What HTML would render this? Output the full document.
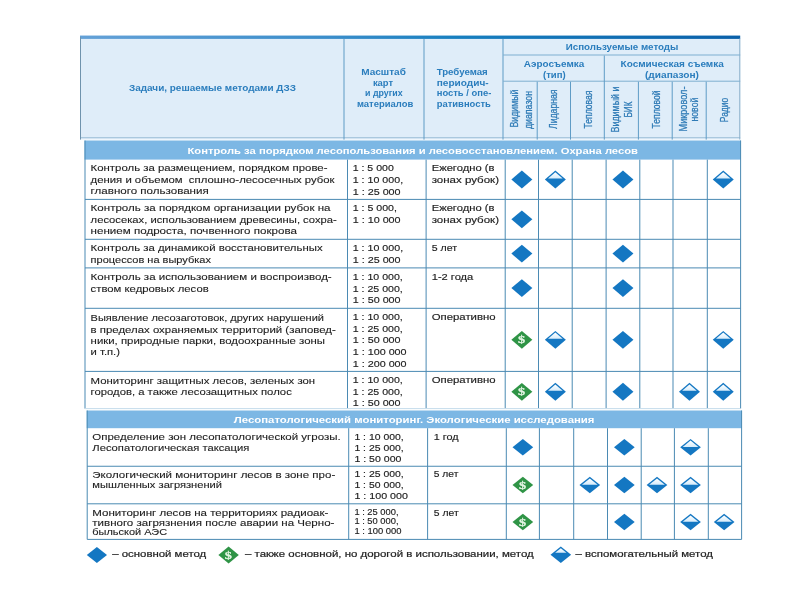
<!DOCTYPE html>
<html lang="ru">
<head>
<meta charset="utf-8">
<title>Задачи, решаемые методами ДЗЗ</title>
<style>
html,body{margin:0;padding:0;background:#fff;}
body{width:800px;height:600px;overflow:hidden;font-family:"Liberation Sans", sans-serif;}
svg{display:block;will-change:transform;}
text{white-space:pre;}
</style>
</head>
<body>
<svg width="800" height="600" viewBox="0 0 800 600">
<defs>
<linearGradient id="tg" x1="0" y1="0" x2="1" y2="0">
<stop offset="0" stop-color="#64a1d7"/><stop offset="0.38" stop-color="#3a8dca"/><stop offset="0.57" stop-color="#177fbf"/><stop offset="1" stop-color="#0a60a9"/>
</linearGradient>
<linearGradient id="wg" x1="0" y1="0" x2="0" y2="1">
<stop offset="0" stop-color="#ffffff"/><stop offset="1" stop-color="#d6ecfb"/>
</linearGradient>
</defs>
<rect x="0" y="0" width="800" height="600" fill="#ffffff"/>
<rect x="80" y="35.6" width="660.2" height="103.9" fill="#dfedf9" />
<rect x="80" y="35.6" width="660.2" height="3.3" fill="url(#tg)" />
<rect x="80" y="137.2" width="660.2" height="1" fill="#9dbfd8" />
<rect x="80.0" y="37" width="1" height="102.6" fill="#6f93ad" />
<rect x="739.3" y="38.5" width="1" height="101.0" fill="#86adc9" />
<rect x="343.5" y="39" width="1" height="100.6" fill="#5f9cc6" />
<rect x="423.5" y="39" width="1" height="100.6" fill="#5f9cc6" />
<rect x="502.5" y="39" width="1" height="100.6" fill="#5f9cc6" />
<rect x="503" y="54.5" width="237.2" height="1" fill="#7fafd1" />
<rect x="503" y="80.7" width="237.2" height="1" fill="#7fafd1" />
<rect x="603.8" y="55.5" width="1" height="84.1" fill="#5f9cc6" />
<rect x="536.7" y="81.7" width="1" height="57.9" fill="#5f9cc6" />
<rect x="570.0" y="81.7" width="1" height="57.9" fill="#5f9cc6" />
<rect x="637.9" y="81.7" width="1" height="57.9" fill="#5f9cc6" />
<rect x="671.7" y="81.7" width="1" height="57.9" fill="#5f9cc6" />
<rect x="705.7" y="81.7" width="1" height="57.9" fill="#5f9cc6" />
<text transform="translate(129,91.4)" font-family='"Liberation Sans", sans-serif' font-size="9" font-weight="bold" fill="#2a7dbd" textLength="167" lengthAdjust="spacingAndGlyphs">Задачи, решаемые методами ДЗЗ</text>
<text transform="translate(361.2,75.2)" font-family='"Liberation Sans", sans-serif' font-size="9" font-weight="bold" fill="#2a7dbd" textLength="44.7" lengthAdjust="spacingAndGlyphs">Масштаб</text>
<text transform="translate(372.9,85.8)" font-family='"Liberation Sans", sans-serif' font-size="9" font-weight="bold" fill="#2a7dbd" textLength="20.2" lengthAdjust="spacingAndGlyphs">карт</text>
<text transform="translate(365,96.3)" font-family='"Liberation Sans", sans-serif' font-size="9" font-weight="bold" fill="#2a7dbd" textLength="37.7" lengthAdjust="spacingAndGlyphs">и других</text>
<text transform="translate(357,107.0)" font-family='"Liberation Sans", sans-serif' font-size="9" font-weight="bold" fill="#2a7dbd" textLength="56.3" lengthAdjust="spacingAndGlyphs">материалов</text>
<text transform="translate(436.7,75.2)" font-family='"Liberation Sans", sans-serif' font-size="9" font-weight="bold" fill="#2a7dbd" textLength="51.0" lengthAdjust="spacingAndGlyphs">Требуемая</text>
<text transform="translate(436.7,85.8)" font-family='"Liberation Sans", sans-serif' font-size="9" font-weight="bold" fill="#2a7dbd" textLength="52.0" lengthAdjust="spacingAndGlyphs">периодич-</text>
<text transform="translate(436.7,96.3)" font-family='"Liberation Sans", sans-serif' font-size="9" font-weight="bold" fill="#2a7dbd" textLength="54.6" lengthAdjust="spacingAndGlyphs">ность / опе-</text>
<text transform="translate(436.7,107.0)" font-family='"Liberation Sans", sans-serif' font-size="9" font-weight="bold" fill="#2a7dbd" textLength="54.2" lengthAdjust="spacingAndGlyphs">ративность</text>
<text transform="translate(565.75,50.2)" font-family='"Liberation Sans", sans-serif' font-size="9" font-weight="bold" fill="#2a7dbd" textLength="112.65" lengthAdjust="spacingAndGlyphs">Используемые методы</text>
<text transform="translate(523.75,67.1)" font-family='"Liberation Sans", sans-serif' font-size="9" font-weight="bold" fill="#2a7dbd" textLength="60.55" lengthAdjust="spacingAndGlyphs">Аэросъемка</text>
<text transform="translate(543,77.5)" font-family='"Liberation Sans", sans-serif' font-size="9" font-weight="bold" fill="#2a7dbd" textLength="22.7" lengthAdjust="spacingAndGlyphs">(тип)</text>
<text transform="translate(620.6,67.1)" font-family='"Liberation Sans", sans-serif' font-size="9" font-weight="bold" fill="#2a7dbd" textLength="103.2" lengthAdjust="spacingAndGlyphs">Космическая съемка</text>
<text transform="translate(645,77.5)" font-family='"Liberation Sans", sans-serif' font-size="9" font-weight="bold" fill="#2a7dbd" textLength="54" lengthAdjust="spacingAndGlyphs">(диапазон)</text>
<text transform="translate(517.5,127.5) rotate(-90)" font-family='"Liberation Sans", sans-serif' font-size="11" font-weight="normal" fill="#2f7bb6" stroke="#2f7bb6" stroke-width="0.25" textLength="38" lengthAdjust="spacingAndGlyphs">Видимый</text>
<text transform="translate(531.8,129) rotate(-90)" font-family='"Liberation Sans", sans-serif' font-size="11" font-weight="normal" fill="#2f7bb6" stroke="#2f7bb6" stroke-width="0.25" textLength="38" lengthAdjust="spacingAndGlyphs">диапазон</text>
<text transform="translate(557.3,129) rotate(-90)" font-family='"Liberation Sans", sans-serif' font-size="11" font-weight="normal" fill="#2f7bb6" stroke="#2f7bb6" stroke-width="0.25" textLength="39.5" lengthAdjust="spacingAndGlyphs">Лидарная</text>
<text transform="translate(591.5,128.5) rotate(-90)" font-family='"Liberation Sans", sans-serif' font-size="11" font-weight="normal" fill="#2f7bb6" stroke="#2f7bb6" stroke-width="0.25" textLength="38" lengthAdjust="spacingAndGlyphs">Тепловая</text>
<text transform="translate(618.75,132.5) rotate(-90)" font-family='"Liberation Sans", sans-serif' font-size="11" font-weight="normal" fill="#2f7bb6" stroke="#2f7bb6" stroke-width="0.25" textLength="46" lengthAdjust="spacingAndGlyphs">Видимый и</text>
<text transform="translate(632.25,117.5) rotate(-90)" font-family='"Liberation Sans", sans-serif' font-size="11" font-weight="normal" fill="#2f7bb6" stroke="#2f7bb6" stroke-width="0.25" textLength="16" lengthAdjust="spacingAndGlyphs">БИК</text>
<text transform="translate(659.6,128.4) rotate(-90)" font-family='"Liberation Sans", sans-serif' font-size="11" font-weight="normal" fill="#2f7bb6" stroke="#2f7bb6" stroke-width="0.25" textLength="38" lengthAdjust="spacingAndGlyphs">Тепловой</text>
<text transform="translate(686.6,131.5) rotate(-90)" font-family='"Liberation Sans", sans-serif' font-size="11" font-weight="normal" fill="#2f7bb6" stroke="#2f7bb6" stroke-width="0.25" textLength="45" lengthAdjust="spacingAndGlyphs">Микровол-</text>
<text transform="translate(698.4,121.6) rotate(-90)" font-family='"Liberation Sans", sans-serif' font-size="11" font-weight="normal" fill="#2f7bb6" stroke="#2f7bb6" stroke-width="0.25" textLength="24" lengthAdjust="spacingAndGlyphs">новой</text>
<text transform="translate(727.5,122.2) rotate(-90)" font-family='"Liberation Sans", sans-serif' font-size="11" font-weight="normal" fill="#2f7bb6" stroke="#2f7bb6" stroke-width="0.25" textLength="24.4" lengthAdjust="spacingAndGlyphs">Радио</text>
<rect x="84.5" y="140.5" width="656.4" height="19.1" fill="#7cb7e4" />
<text transform="translate(187.5,153.6)" font-family='"Liberation Sans", sans-serif' font-size="9" font-weight="bold" fill="#ffffff" textLength="450.5" lengthAdjust="spacingAndGlyphs">Контроль за порядком лесопользования и лесовосстановлением. Охрана лесов</text>
<rect x="84.5" y="140.5" width="1" height="268.1" fill="#4b8ab3" />
<rect x="347.0" y="159.6" width="1" height="249.0" fill="#4b8ab3" />
<rect x="425.6" y="159.6" width="1" height="249.0" fill="#4b8ab3" />
<rect x="504.7" y="159.6" width="1" height="249.0" fill="#4b8ab3" />
<rect x="538.0" y="159.6" width="1" height="249.0" fill="#4b8ab3" />
<rect x="571.7" y="159.6" width="1" height="249.0" fill="#4b8ab3" />
<rect x="605.6" y="159.6" width="1" height="249.0" fill="#4b8ab3" />
<rect x="639.3" y="159.6" width="1" height="249.0" fill="#4b8ab3" />
<rect x="672.5" y="159.6" width="1" height="249.0" fill="#4b8ab3" />
<rect x="706.8" y="159.6" width="1" height="249.0" fill="#4b8ab3" />
<rect x="740.1" y="140.5" width="1" height="268.1" fill="#4b8ab3" />
<rect x="85.0" y="198.9" width="655.6" height="1" fill="#4b8ab3" />
<rect x="85.0" y="238.8" width="655.6" height="1" fill="#4b8ab3" />
<rect x="85.0" y="267.4" width="655.6" height="1" fill="#4b8ab3" />
<rect x="85.0" y="307.8" width="655.6" height="1" fill="#4b8ab3" />
<rect x="85.0" y="370.9" width="655.6" height="1" fill="#4b8ab3" />
<rect x="85.0" y="408.1" width="655.6" height="1" fill="#c5dcec" />
<text transform="translate(90.6,171.3)" font-family='"Liberation Sans", sans-serif' font-size="8.9" font-weight="normal" fill="#222222" stroke="#222222" stroke-width="0.1" textLength="236.9" lengthAdjust="spacingAndGlyphs">Контроль за размещением, порядком прове-</text>
<text transform="translate(90.6,183)" font-family='"Liberation Sans", sans-serif' font-size="8.9" font-weight="normal" fill="#222222" stroke="#222222" stroke-width="0.1" textLength="244.0" lengthAdjust="spacingAndGlyphs">дения и объемом  сплошно-лесосечных рубок</text>
<text transform="translate(90.6,194.2)" font-family='"Liberation Sans", sans-serif' font-size="8.9" font-weight="normal" fill="#222222" stroke="#222222" stroke-width="0.1" textLength="118.1" lengthAdjust="spacingAndGlyphs">главного пользования</text>
<text transform="translate(352.7,171.4)" font-family='"Liberation Sans", sans-serif' font-size="9.5" font-weight="normal" fill="#222222" stroke="#222222" stroke-width="0.15" textLength="41.1" lengthAdjust="spacingAndGlyphs">1 : 5 000</text>
<text transform="translate(352.7,183.1)" font-family='"Liberation Sans", sans-serif' font-size="9.5" font-weight="normal" fill="#222222" stroke="#222222" stroke-width="0.15" textLength="50.4" lengthAdjust="spacingAndGlyphs">1 : 10 000,</text>
<text transform="translate(352.7,194.7)" font-family='"Liberation Sans", sans-serif' font-size="9.5" font-weight="normal" fill="#222222" stroke="#222222" stroke-width="0.15" textLength="47.9" lengthAdjust="spacingAndGlyphs">1 : 25 000</text>
<text transform="translate(431.7,171.4)" font-family='"Liberation Sans", sans-serif' font-size="8.9" font-weight="normal" fill="#222222" stroke="#222222" stroke-width="0.15" textLength="62.7" lengthAdjust="spacingAndGlyphs">Ежегодно (в</text>
<text transform="translate(431.7,183.1)" font-family='"Liberation Sans", sans-serif' font-size="8.9" font-weight="normal" fill="#222222" stroke="#222222" stroke-width="0.15" textLength="67.3" lengthAdjust="spacingAndGlyphs">зонах рубок)</text>
<path d="M511.35,179.5 L521.85,170.55 L532.35,179.5 L521.85,188.45 Z" fill="#1477c2"/>
<path d="M544.85,179.5 L555.35,170.55 L565.85,179.5 L555.35,188.45 Z" fill="#1477c2"/>
<path d="M548.02,178.5 L555.35,172.25 L562.68,178.5 Z" fill="url(#wg)"/>
<path d="M612.45,179.5 L622.95,170.55 L633.45,179.5 L622.95,188.45 Z" fill="#1477c2"/>
<path d="M712.75,179.5 L723.25,170.55 L733.75,179.5 L723.25,188.45 Z" fill="#1477c2"/>
<path d="M715.92,178.5 L723.25,172.25 L730.58,178.5 Z" fill="url(#wg)"/>
<text transform="translate(90.6,211.4)" font-family='"Liberation Sans", sans-serif' font-size="8.9" font-weight="normal" fill="#222222" stroke="#222222" stroke-width="0.1" textLength="239.9" lengthAdjust="spacingAndGlyphs">Контроль за порядком организации рубок на</text>
<text transform="translate(90.6,222.9)" font-family='"Liberation Sans", sans-serif' font-size="8.9" font-weight="normal" fill="#222222" stroke="#222222" stroke-width="0.1" textLength="246.2" lengthAdjust="spacingAndGlyphs">лесосеках, использованием древесины, сохра-</text>
<text transform="translate(90.6,234.3)" font-family='"Liberation Sans", sans-serif' font-size="8.9" font-weight="normal" fill="#222222" stroke="#222222" stroke-width="0.1" textLength="206.3" lengthAdjust="spacingAndGlyphs">нением подроста, почвенного покрова</text>
<text transform="translate(352.7,211.3)" font-family='"Liberation Sans", sans-serif' font-size="9.5" font-weight="normal" fill="#222222" stroke="#222222" stroke-width="0.15" textLength="44.2" lengthAdjust="spacingAndGlyphs">1 : 5 000,</text>
<text transform="translate(352.7,222.8)" font-family='"Liberation Sans", sans-serif' font-size="9.5" font-weight="normal" fill="#222222" stroke="#222222" stroke-width="0.15" textLength="47.9" lengthAdjust="spacingAndGlyphs">1 : 10 000</text>
<text transform="translate(431.7,211.3)" font-family='"Liberation Sans", sans-serif' font-size="8.9" font-weight="normal" fill="#222222" stroke="#222222" stroke-width="0.15" textLength="62.7" lengthAdjust="spacingAndGlyphs">Ежегодно (в</text>
<text transform="translate(431.7,222.8)" font-family='"Liberation Sans", sans-serif' font-size="8.9" font-weight="normal" fill="#222222" stroke="#222222" stroke-width="0.15" textLength="67.3" lengthAdjust="spacingAndGlyphs">зонах рубок)</text>
<path d="M511.35,219.35 L521.85,210.4 L532.35,219.35 L521.85,228.3 Z" fill="#1477c2"/>
<text transform="translate(90.6,251.4)" font-family='"Liberation Sans", sans-serif' font-size="8.9" font-weight="normal" fill="#222222" stroke="#222222" stroke-width="0.1" textLength="232.0" lengthAdjust="spacingAndGlyphs">Контроль за динамикой восстановительных</text>
<text transform="translate(90.6,262.6)" font-family='"Liberation Sans", sans-serif' font-size="8.9" font-weight="normal" fill="#222222" stroke="#222222" stroke-width="0.1" textLength="120.4" lengthAdjust="spacingAndGlyphs">процессов на вырубках</text>
<text transform="translate(352.7,251.4)" font-family='"Liberation Sans", sans-serif' font-size="9.5" font-weight="normal" fill="#222222" stroke="#222222" stroke-width="0.15" textLength="50.4" lengthAdjust="spacingAndGlyphs">1 : 10 000,</text>
<text transform="translate(352.7,262.8)" font-family='"Liberation Sans", sans-serif' font-size="9.5" font-weight="normal" fill="#222222" stroke="#222222" stroke-width="0.15" textLength="47.9" lengthAdjust="spacingAndGlyphs">1 : 25 000</text>
<text transform="translate(431.7,251.4)" font-family='"Liberation Sans", sans-serif' font-size="8.9" font-weight="normal" fill="#222222" stroke="#222222" stroke-width="0.15" textLength="25.3" lengthAdjust="spacingAndGlyphs">5 лет</text>
<path d="M511.35,253.6 L521.85,244.65 L532.35,253.6 L521.85,262.55 Z" fill="#1477c2"/>
<path d="M612.45,253.6 L622.95,244.65 L633.45,253.6 L622.95,262.55 Z" fill="#1477c2"/>
<text transform="translate(90.6,280.2)" font-family='"Liberation Sans", sans-serif' font-size="8.9" font-weight="normal" fill="#222222" stroke="#222222" stroke-width="0.1" textLength="241.1" lengthAdjust="spacingAndGlyphs">Контроль за использованием и воспроизвод-</text>
<text transform="translate(90.6,291.8)" font-family='"Liberation Sans", sans-serif' font-size="8.9" font-weight="normal" fill="#222222" stroke="#222222" stroke-width="0.1" textLength="118.1" lengthAdjust="spacingAndGlyphs">ством кедровых лесов</text>
<text transform="translate(352.7,280)" font-family='"Liberation Sans", sans-serif' font-size="9.5" font-weight="normal" fill="#222222" stroke="#222222" stroke-width="0.15" textLength="50.1" lengthAdjust="spacingAndGlyphs">1 : 10 000,</text>
<text transform="translate(352.7,291.5)" font-family='"Liberation Sans", sans-serif' font-size="9.5" font-weight="normal" fill="#222222" stroke="#222222" stroke-width="0.15" textLength="50.1" lengthAdjust="spacingAndGlyphs">1 : 25 000,</text>
<text transform="translate(352.7,303)" font-family='"Liberation Sans", sans-serif' font-size="9.5" font-weight="normal" fill="#222222" stroke="#222222" stroke-width="0.15" textLength="47.9" lengthAdjust="spacingAndGlyphs">1 : 50 000</text>
<text transform="translate(431.7,280)" font-family='"Liberation Sans", sans-serif' font-size="8.9" font-weight="normal" fill="#222222" stroke="#222222" stroke-width="0.15" textLength="41.6" lengthAdjust="spacingAndGlyphs">1-2 года</text>
<path d="M511.35,288.1 L521.85,279.15 L532.35,288.1 L521.85,297.05 Z" fill="#1477c2"/>
<path d="M612.45,288.1 L622.95,279.15 L633.45,288.1 L622.95,297.05 Z" fill="#1477c2"/>
<text transform="translate(90.6,321)" font-family='"Liberation Sans", sans-serif' font-size="8.9" font-weight="normal" fill="#222222" stroke="#222222" stroke-width="0.1" textLength="233.4" lengthAdjust="spacingAndGlyphs">Выявление лесозаготовок, других нарушений</text>
<text transform="translate(90.6,332.5)" font-family='"Liberation Sans", sans-serif' font-size="8.9" font-weight="normal" fill="#222222" stroke="#222222" stroke-width="0.1" textLength="245.1" lengthAdjust="spacingAndGlyphs">в пределах охраняемых территорий (заповед-</text>
<text transform="translate(90.6,343.8)" font-family='"Liberation Sans", sans-serif' font-size="8.9" font-weight="normal" fill="#222222" stroke="#222222" stroke-width="0.1" textLength="234.4" lengthAdjust="spacingAndGlyphs">ники, природные парки, водоохранные зоны</text>
<text transform="translate(90.6,355.1)" font-family='"Liberation Sans", sans-serif' font-size="8.9" font-weight="normal" fill="#222222" stroke="#222222" stroke-width="0.1" textLength="29.4" lengthAdjust="spacingAndGlyphs">и т.п.)</text>
<text transform="translate(352.7,320.2)" font-family='"Liberation Sans", sans-serif' font-size="9.5" font-weight="normal" fill="#222222" stroke="#222222" stroke-width="0.15" textLength="50.1" lengthAdjust="spacingAndGlyphs">1 : 10 000,</text>
<text transform="translate(352.7,331.8)" font-family='"Liberation Sans", sans-serif' font-size="9.5" font-weight="normal" fill="#222222" stroke="#222222" stroke-width="0.15" textLength="50.1" lengthAdjust="spacingAndGlyphs">1 : 25 000,</text>
<text transform="translate(352.7,343.3)" font-family='"Liberation Sans", sans-serif' font-size="9.5" font-weight="normal" fill="#222222" stroke="#222222" stroke-width="0.15" textLength="47.9" lengthAdjust="spacingAndGlyphs">1 : 50 000</text>
<text transform="translate(352.7,355)" font-family='"Liberation Sans", sans-serif' font-size="9.5" font-weight="normal" fill="#222222" stroke="#222222" stroke-width="0.15" textLength="53.9" lengthAdjust="spacingAndGlyphs">1 : 100 000</text>
<text transform="translate(352.7,366.6)" font-family='"Liberation Sans", sans-serif' font-size="9.5" font-weight="normal" fill="#222222" stroke="#222222" stroke-width="0.15" textLength="53.9" lengthAdjust="spacingAndGlyphs">1 : 200 000</text>
<text transform="translate(431.7,320.2)" font-family='"Liberation Sans", sans-serif' font-size="8.9" font-weight="normal" fill="#222222" stroke="#222222" stroke-width="0.15" textLength="63.9" lengthAdjust="spacingAndGlyphs">Оперативно</text>
<path d="M511.35,339.85 L521.85,331.0 L532.35,339.85 L521.85,348.7 Z" fill="#2f9446"/>
<text transform="translate(521.65,343.35) scale(1.3,1)" font-family='"Liberation Serif", serif' font-size="11" font-weight="bold" fill="#e3f5e3" stroke="#e3f5e3" stroke-width="0.25" text-anchor="middle">$</text>
<path d="M544.85,339.85 L555.35,330.9 L565.85,339.85 L555.35,348.8 Z" fill="#1477c2"/>
<path d="M548.02,338.85 L555.35,332.6 L562.68,338.85 Z" fill="url(#wg)"/>
<path d="M612.45,339.85 L622.95,330.9 L633.45,339.85 L622.95,348.8 Z" fill="#1477c2"/>
<path d="M712.75,339.85 L723.25,330.9 L733.75,339.85 L723.25,348.8 Z" fill="#1477c2"/>
<path d="M715.92,338.85 L723.25,332.6 L730.58,338.85 Z" fill="url(#wg)"/>
<text transform="translate(90.6,383.5)" font-family='"Liberation Sans", sans-serif' font-size="8.9" font-weight="normal" fill="#222222" stroke="#222222" stroke-width="0.1" textLength="224.5" lengthAdjust="spacingAndGlyphs">Мониторинг защитных лесов, зеленых зон</text>
<text transform="translate(90.6,395.2)" font-family='"Liberation Sans", sans-serif' font-size="8.9" font-weight="normal" fill="#222222" stroke="#222222" stroke-width="0.1" textLength="201.2" lengthAdjust="spacingAndGlyphs">городов, а также лесозащитных полос</text>
<text transform="translate(352.7,383.1)" font-family='"Liberation Sans", sans-serif' font-size="9.5" font-weight="normal" fill="#222222" stroke="#222222" stroke-width="0.15" textLength="50.1" lengthAdjust="spacingAndGlyphs">1 : 10 000,</text>
<text transform="translate(352.7,395)" font-family='"Liberation Sans", sans-serif' font-size="9.5" font-weight="normal" fill="#222222" stroke="#222222" stroke-width="0.15" textLength="50.1" lengthAdjust="spacingAndGlyphs">1 : 25 000,</text>
<text transform="translate(352.7,406.3)" font-family='"Liberation Sans", sans-serif' font-size="9.5" font-weight="normal" fill="#222222" stroke="#222222" stroke-width="0.15" textLength="47.9" lengthAdjust="spacingAndGlyphs">1 : 50 000</text>
<text transform="translate(431.7,383.1)" font-family='"Liberation Sans", sans-serif' font-size="8.9" font-weight="normal" fill="#222222" stroke="#222222" stroke-width="0.15" textLength="63.9" lengthAdjust="spacingAndGlyphs">Оперативно</text>
<path d="M511.35,391.8 L521.85,382.95 L532.35,391.8 L521.85,400.65 Z" fill="#2f9446"/>
<text transform="translate(521.65,395.3) scale(1.3,1)" font-family='"Liberation Serif", serif' font-size="11" font-weight="bold" fill="#e3f5e3" stroke="#e3f5e3" stroke-width="0.25" text-anchor="middle">$</text>
<path d="M544.85,391.8 L555.35,382.85 L565.85,391.8 L555.35,400.75 Z" fill="#1477c2"/>
<path d="M548.02,390.8 L555.35,384.55 L562.68,390.8 Z" fill="url(#wg)"/>
<path d="M612.45,391.8 L622.95,382.85 L633.45,391.8 L622.95,400.75 Z" fill="#1477c2"/>
<path d="M678.95,391.8 L689.45,382.85 L699.95,391.8 L689.45,400.75 Z" fill="#1477c2"/>
<path d="M682.12,390.8 L689.45,384.55 L696.78,390.8 Z" fill="url(#wg)"/>
<path d="M712.75,391.8 L723.25,382.85 L733.75,391.8 L723.25,400.75 Z" fill="#1477c2"/>
<path d="M715.92,390.8 L723.25,384.55 L730.58,390.8 Z" fill="url(#wg)"/>
<rect x="86.7" y="410.5" width="655.2" height="17.7" fill="#7cb7e4" />
<text transform="translate(233.8,423)" font-family='"Liberation Sans", sans-serif' font-size="9" font-weight="bold" fill="#ffffff" textLength="360.7" lengthAdjust="spacingAndGlyphs">Лесопатологический мониторинг. Экологические исследования</text>
<rect x="86.7" y="410.5" width="1" height="128.9" fill="#4b8ab3" />
<rect x="348.2" y="428.2" width="1" height="111.2" fill="#4b8ab3" />
<rect x="427.1" y="428.2" width="1" height="111.2" fill="#4b8ab3" />
<rect x="505.8" y="428.2" width="1" height="111.2" fill="#4b8ab3" />
<rect x="538.9" y="428.2" width="1" height="111.2" fill="#4b8ab3" />
<rect x="573.2" y="428.2" width="1" height="111.2" fill="#4b8ab3" />
<rect x="607.0" y="428.2" width="1" height="111.2" fill="#4b8ab3" />
<rect x="640.7" y="428.2" width="1" height="111.2" fill="#4b8ab3" />
<rect x="673.9" y="428.2" width="1" height="111.2" fill="#4b8ab3" />
<rect x="707.8" y="428.2" width="1" height="111.2" fill="#4b8ab3" />
<rect x="741.1" y="410.5" width="1" height="128.9" fill="#4b8ab3" />
<rect x="87.2" y="465.75" width="654.4" height="1" fill="#4b8ab3" />
<rect x="87.2" y="503.3" width="654.4" height="1" fill="#4b8ab3" />
<rect x="87.2" y="538.9" width="654.4" height="1" fill="#4b8ab3" />
<text transform="translate(92.3,440.2)" font-family='"Liberation Sans", sans-serif' font-size="8.9" font-weight="normal" fill="#222222" stroke="#222222" stroke-width="0.1" textLength="248.4" lengthAdjust="spacingAndGlyphs">Определение зон лесопатологической угрозы.</text>
<text transform="translate(92.3,450.6)" font-family='"Liberation Sans", sans-serif' font-size="8.9" font-weight="normal" fill="#222222" stroke="#222222" stroke-width="0.1" textLength="157.0" lengthAdjust="spacingAndGlyphs">Лесопатологическая таксация</text>
<text transform="translate(354.4,439.6)" font-family='"Liberation Sans", sans-serif' font-size="9.5" font-weight="normal" fill="#222222" stroke="#222222" stroke-width="0.15" textLength="49.3" lengthAdjust="spacingAndGlyphs">1 : 10 000,</text>
<text transform="translate(354.4,450.6)" font-family='"Liberation Sans", sans-serif' font-size="9.5" font-weight="normal" fill="#222222" stroke="#222222" stroke-width="0.15" textLength="49.3" lengthAdjust="spacingAndGlyphs">1 : 25 000,</text>
<text transform="translate(354.4,461.7)" font-family='"Liberation Sans", sans-serif' font-size="9.5" font-weight="normal" fill="#222222" stroke="#222222" stroke-width="0.15" textLength="47.0" lengthAdjust="spacingAndGlyphs">1 : 50 000</text>
<text transform="translate(433.8,439.6)" font-family='"Liberation Sans", sans-serif' font-size="8.9" font-weight="normal" fill="#222222" stroke="#222222" stroke-width="0.15" textLength="24.9" lengthAdjust="spacingAndGlyphs">1 год</text>
<path d="M512.5,447.23 L522.85,438.93 L533.2,447.23 L522.85,455.53 Z" fill="#1477c2"/>
<path d="M614.0,447.23 L624.35,438.93 L634.7,447.23 L624.35,455.53 Z" fill="#1477c2"/>
<path d="M680.2,447.23 L690.55,438.93 L700.9,447.23 L690.55,455.53 Z" fill="#1477c2"/>
<path d="M682.69,446.93 L690.55,440.62 L698.41,446.93 Z" fill="url(#wg)"/>
<text transform="translate(92.3,477.5)" font-family='"Liberation Sans", sans-serif' font-size="8.9" font-weight="normal" fill="#222222" stroke="#222222" stroke-width="0.1" textLength="243.0" lengthAdjust="spacingAndGlyphs">Экологический мониторинг лесов в зоне про-</text>
<text transform="translate(92.3,488.2)" font-family='"Liberation Sans", sans-serif' font-size="8.9" font-weight="normal" fill="#222222" stroke="#222222" stroke-width="0.1" textLength="129.7" lengthAdjust="spacingAndGlyphs">мышленных загрязнений</text>
<text transform="translate(354.4,477.4)" font-family='"Liberation Sans", sans-serif' font-size="9.5" font-weight="normal" fill="#222222" stroke="#222222" stroke-width="0.15" textLength="49.3" lengthAdjust="spacingAndGlyphs">1 : 25 000,</text>
<text transform="translate(354.4,488.3)" font-family='"Liberation Sans", sans-serif' font-size="9.5" font-weight="normal" fill="#222222" stroke="#222222" stroke-width="0.15" textLength="49.3" lengthAdjust="spacingAndGlyphs">1 : 50 000,</text>
<text transform="translate(354.4,499.3)" font-family='"Liberation Sans", sans-serif' font-size="9.5" font-weight="normal" fill="#222222" stroke="#222222" stroke-width="0.15" textLength="53.5" lengthAdjust="spacingAndGlyphs">1 : 100 000</text>
<text transform="translate(433.8,477.4)" font-family='"Liberation Sans", sans-serif' font-size="8.9" font-weight="normal" fill="#222222" stroke="#222222" stroke-width="0.15" textLength="24.6" lengthAdjust="spacingAndGlyphs">5 лет</text>
<path d="M512.5,485.02 L522.85,476.82 L533.2,485.02 L522.85,493.22 Z" fill="#2f9446"/>
<text transform="translate(522.65,488.52) scale(1.3,1)" font-family='"Liberation Serif", serif' font-size="11" font-weight="bold" fill="#e3f5e3" stroke="#e3f5e3" stroke-width="0.25" text-anchor="middle">$</text>
<path d="M579.45,485.02 L589.8,476.72 L600.15,485.02 L589.8,493.32 Z" fill="#1477c2"/>
<path d="M581.94,484.72 L589.8,478.42 L597.66,484.72 Z" fill="url(#wg)"/>
<path d="M614.0,485.02 L624.35,476.72 L634.7,485.02 L624.35,493.32 Z" fill="#1477c2"/>
<path d="M646.65,485.02 L657.0,476.72 L667.35,485.02 L657.0,493.32 Z" fill="#1477c2"/>
<path d="M649.14,484.72 L657.0,478.42 L664.86,484.72 Z" fill="url(#wg)"/>
<path d="M680.2,485.02 L690.55,476.72 L700.9,485.02 L690.55,493.32 Z" fill="#1477c2"/>
<path d="M682.69,484.72 L690.55,478.42 L698.41,484.72 Z" fill="url(#wg)"/>
<text transform="translate(92.3,516)" font-family='"Liberation Sans", sans-serif' font-size="8.6" font-weight="normal" fill="#222222" stroke="#222222" stroke-width="0.1" textLength="236.1" lengthAdjust="spacingAndGlyphs">Мониторинг лесов на территориях радиоак-</text>
<text transform="translate(92.3,525.6)" font-family='"Liberation Sans", sans-serif' font-size="8.6" font-weight="normal" fill="#222222" stroke="#222222" stroke-width="0.1" textLength="242.1" lengthAdjust="spacingAndGlyphs">тивного загрязнения после аварии на Черно-</text>
<text transform="translate(92.3,534.9)" font-family='"Liberation Sans", sans-serif' font-size="8.6" font-weight="normal" fill="#222222" stroke="#222222" stroke-width="0.1" textLength="74.8" lengthAdjust="spacingAndGlyphs">быльской АЭС</text>
<text transform="translate(354.4,514.7)" font-family='"Liberation Sans", sans-serif' font-size="8.9" font-weight="normal" fill="#222222" stroke="#222222" stroke-width="0.15" textLength="44.1" lengthAdjust="spacingAndGlyphs">1 : 25 000,</text>
<text transform="translate(354.4,524.3)" font-family='"Liberation Sans", sans-serif' font-size="8.9" font-weight="normal" fill="#222222" stroke="#222222" stroke-width="0.15" textLength="44.1" lengthAdjust="spacingAndGlyphs">1 : 50 000,</text>
<text transform="translate(354.4,534)" font-family='"Liberation Sans", sans-serif' font-size="8.9" font-weight="normal" fill="#222222" stroke="#222222" stroke-width="0.15" textLength="47.0" lengthAdjust="spacingAndGlyphs">1 : 100 000</text>
<text transform="translate(433.8,516)" font-family='"Liberation Sans", sans-serif' font-size="8.9" font-weight="normal" fill="#222222" stroke="#222222" stroke-width="0.15" textLength="24.9" lengthAdjust="spacingAndGlyphs">5 лет</text>
<path d="M512.5,522.0 L522.85,513.8 L533.2,522.0 L522.85,530.2 Z" fill="#2f9446"/>
<text transform="translate(522.65,525.5) scale(1.3,1)" font-family='"Liberation Serif", serif' font-size="11" font-weight="bold" fill="#e3f5e3" stroke="#e3f5e3" stroke-width="0.25" text-anchor="middle">$</text>
<path d="M614.0,522.0 L624.35,513.7 L634.7,522.0 L624.35,530.3 Z" fill="#1477c2"/>
<path d="M680.2,522.0 L690.55,513.7 L700.9,522.0 L690.55,530.3 Z" fill="#1477c2"/>
<path d="M682.69,521.7 L690.55,515.4 L698.41,521.7 Z" fill="url(#wg)"/>
<path d="M713.8,522.0 L724.15,513.7 L734.5,522.0 L724.15,530.3 Z" fill="#1477c2"/>
<path d="M716.29,521.7 L724.15,515.4 L732.01,521.7 Z" fill="url(#wg)"/>
<path d="M86.8,555 L96.9,546.9 L107.0,555 L96.9,563.1 Z" fill="#1477c2"/>
<text transform="translate(112.3,557.3)" font-family='"Liberation Sans", sans-serif' font-size="9.3" font-weight="normal" fill="#222222" stroke="#222222" stroke-width="0.2" textLength="93.9" lengthAdjust="spacingAndGlyphs">– основной метод</text>
<path d="M218.4,555 L228.6,546.5 L238.8,555 L228.6,563.5 Z" fill="#2f9446"/>
<text transform="translate(228.4,558.5) scale(1.3,1)" font-family='"Liberation Serif", serif' font-size="11" font-weight="bold" fill="#e3f5e3" stroke="#e3f5e3" stroke-width="0.25" text-anchor="middle">$</text>
<text transform="translate(245,557.3)" font-family='"Liberation Sans", sans-serif' font-size="9.3" font-weight="normal" fill="#222222" stroke="#222222" stroke-width="0.2" textLength="288.8" lengthAdjust="spacingAndGlyphs">– также основной, но дорогой в использовании, метод</text>
<path d="M550.5,554.7 L560.8,546.5 L571.1,554.7 L560.8,562.9 Z" fill="#1477c2"/>
<path d="M555.15,552.7 L560.8,548.2 L566.45,552.7 Z" fill="url(#wg)"/>
<text transform="translate(575.6,557.3)" font-family='"Liberation Sans", sans-serif' font-size="9.3" font-weight="normal" fill="#222222" stroke="#222222" stroke-width="0.2" textLength="137.3" lengthAdjust="spacingAndGlyphs">– вспомогательный метод</text>
</svg>
</body>
</html>
